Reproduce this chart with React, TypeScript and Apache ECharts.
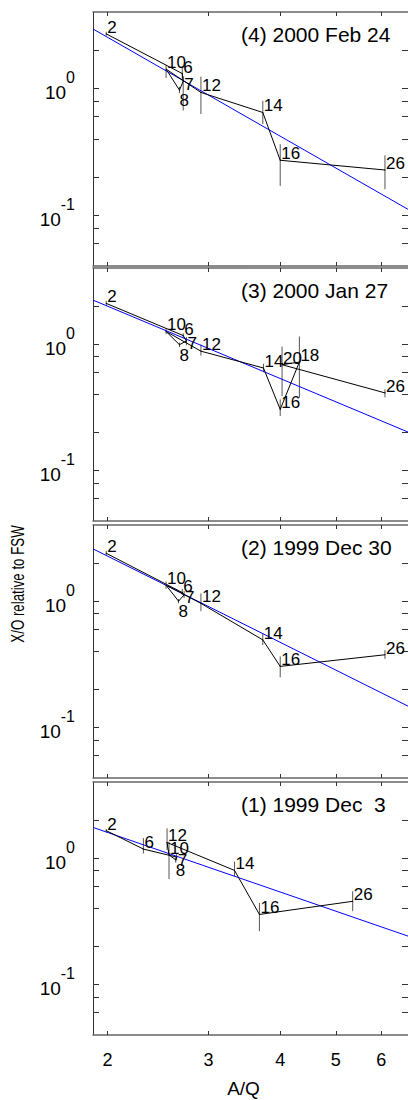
import React, { useEffect, useRef } from "react";
import * as echarts from "echarts";

// ---------- axis ranges & ticks ----------
const AQ_MIN = 1.887;
const AQ_MAX = 6.68;
const XO_MIN = 0.04;
const XO_MAX = 4;
const X_TICKS = [2, 3, 4, 5, 6];
const Y_TICKS = [0.06, 0.08, 0.1, 0.2, 0.4, 0.6, 0.8, 1, 2];
const Y_LABELS = [0.1, 1];
const X_NAME = "A/Q";
const Y_NAME = "X/O relative to FSW";

// ---------- panel (4) 2000 Feb 24 ----------
const P4_TITLE = "(4) 2000 Feb 24";
const P4_Z = ["2", "6", "7", "8", "10", "12", "14", "16", "26"];
const P4_AQ = [1.99, 2.7, 2.71, 2.67, 2.53, 2.91, 3.73, 4.0, 6.09];
const P4_XO = [2.69, 1.31, 1.14, 0.97, 1.42, 0.93, 0.647, 0.272, 0.228];
const P4_LO = [2.6, 1.18, 0.67, 0.92, 1.21, 0.628, 0.524, 0.171, 0.161];
const P4_HI = [2.8, 1.5, 1.25, 1.03, 1.53, 1.24, 0.8, 0.364, 0.298];
const P4_FIT_AQ = [AQ_MIN, AQ_MAX];
const P4_FIT_XO = [2.94, 0.1117];

// ---------- panel (3) 2000 Jan 27 ----------
const P3_TITLE = "(3) 2000 Jan 27";
const P3_Z = ["2", "6", "7", "8", "10", "12", "14", "16", "18", "20", "26"];
const P3_AQ = [1.99, 2.71, 2.745, 2.67, 2.53, 2.91, 3.74, 4.0, 4.32, 4.03, 6.09];
const P3_XO = [2.1, 1.17, 1.06, 0.99, 1.26, 0.88, 0.648, 0.305, 0.722, 0.688, 0.412];
const P3_LO = [2.0, 1.12, 0.98, 0.95, 1.2, 0.813, 0.6, 0.27, 0.377, 0.388, 0.38];
const P3_HI = [2.2, 1.22, 1.14, 1.03, 1.33, 0.995, 0.7, 0.366, 1.15, 0.957, 0.44];
const P3_FIT_AQ = [AQ_MIN, AQ_MAX];
const P3_FIT_XO = [2.23, 0.202];

// ---------- panel (2) 1999 Dec 30 ----------
const P2_TITLE = "(2) 1999 Dec 30";
const P2_Z = ["2", "6", "7", "8", "10", "12", "14", "16", "26"];
const P2_AQ = [1.99, 2.7, 2.72, 2.66, 2.53, 2.91, 3.73, 4.0, 6.09];
const P2_XO = [2.39, 1.17, 1.12, 1.0, 1.336, 0.96, 0.494, 0.305, 0.377];
const P2_LO = [2.3, 1.12, 1.06, 0.96, 1.25, 0.834, 0.45, 0.25, 0.35];
const P2_HI = [2.5, 1.25, 1.2, 1.04, 1.43, 1.15, 0.557, 0.365, 0.41];
const P2_FIT_AQ = [AQ_MIN, AQ_MAX];
const P2_FIT_XO = [2.59, 0.148];

// ---------- panel (1) 1999 Dec  3 ----------
const P1_TITLE = "(1) 1999 Dec  3";
const P1_Z = ["2", "6", "7", "8", "10", "12", "14", "16", "26"];
const P1_AQ = [1.99, 2.31, 2.64, 2.63, 2.56, 2.54, 3.33, 3.68, 5.35];
const P1_XO = [1.65, 1.18, 1.02, 0.97, 1.06, 1.33, 0.8, 0.359, 0.456];
const P1_LO = [1.6, 1.09, 0.96, 0.92, 0.684, 1.16, 0.717, 0.265, 0.381];
const P1_HI = [1.7, 1.44, 1.08, 1.02, 1.35, 1.72, 0.94, 0.443, 0.547];
const P1_FIT_AQ = [AQ_MIN, AQ_MAX];
const P1_FIT_XO = [1.75, 0.242];

const PANELS = [
  { title: P4_TITLE, z: P4_Z, aq: P4_AQ, xo: P4_XO, lo: P4_LO, hi: P4_HI, fitAq: P4_FIT_AQ, fitXo: P4_FIT_XO },
  { title: P3_TITLE, z: P3_Z, aq: P3_AQ, xo: P3_XO, lo: P3_LO, hi: P3_HI, fitAq: P3_FIT_AQ, fitXo: P3_FIT_XO },
  { title: P2_TITLE, z: P2_Z, aq: P2_AQ, xo: P2_XO, lo: P2_LO, hi: P2_HI, fitAq: P2_FIT_AQ, fitXo: P2_FIT_XO },
  { title: P1_TITLE, z: P1_Z, aq: P1_AQ, xo: P1_XO, lo: P1_LO, hi: P1_HI, fitAq: P1_FIT_AQ, fitXo: P1_FIT_XO },
];

// ---------- layout ----------
const FONT = "'Liberation Sans', Arial, Helvetica, sans-serif";
const GRID_LEFT = 93;
const GRID_WIDTH = 316;
const GRID_TOPS = [12, 268, 525, 782];
const GRID_HEIGHTS = [254, 253, 253, 253];

function pointLabel(z: string) {
  const base: any = {
    show: true,
    position: "inside",
    align: "left",
    color: "#000",
    fontSize: 17,
    lineHeight: 17,
    fontFamily: FONT,
    formatter: (p: any) => p.name,
  };
  if (z === "7") return { ...base, verticalAlign: "middle", offset: [1, 3] };
  if (z === "8") return { ...base, verticalAlign: "top", offset: [0, 2] };
  return { ...base, verticalAlign: "bottom", offset: [1, 2] };
}

function buildOption() {
  const grid: any[] = [];
  const xAxis: any[] = [];
  const yAxis: any[] = [];
  const series: any[] = [];
  const graphic: any[] = [];

  PANELS.forEach((p, i) => {
    const isLast = i === PANELS.length - 1;
    grid.push({ left: GRID_LEFT, width: GRID_WIDTH, top: GRID_TOPS[i], height: GRID_HEIGHTS[i] });

    const xBase: any = {
      type: "log",
      logBase: 10,
      min: AQ_MIN,
      max: AQ_MAX,
      gridIndex: i,
      splitLine: { show: false },
      minorTick: { show: false },
      axisLine: { show: true, onZero: false, lineStyle: { color: "#666", width: 1.5 } },
      axisTick: { show: true, inside: true, length: 4, customValues: X_TICKS, lineStyle: { color: "#333", width: 1 } },
    };
    xAxis.push({
      ...xBase,
      position: "bottom",
      axisLabel: {
        show: isLast,
        customValues: X_TICKS,
        margin: 16,
        fontSize: 18,
        color: "#000",
        fontFamily: FONT,
        formatter: (v: number) => String(Math.round(v)),
      },
      name: isLast ? X_NAME : "",
      nameLocation: "middle",
      nameGap: 44,
      nameTextStyle: { fontSize: 19, color: "#000", fontFamily: FONT, padding: [0, 14, 0, 0] },
    });
    xAxis.push({ ...xBase, position: "top", axisLabel: { show: false } });

    const yBase: any = {
      type: "log",
      logBase: 10,
      min: XO_MIN,
      max: XO_MAX,
      gridIndex: i,
      splitLine: { show: false },
      minorTick: { show: false },
      axisLine: { show: true, onZero: false, lineStyle: { color: "#333", width: 1 } },
      axisTick: { show: true, inside: true, length: 6, customValues: Y_TICKS, lineStyle: { color: "#333", width: 1 } },
    };
    yAxis.push({
      ...yBase,
      position: "left",
      axisLabel: {
        show: true,
        customValues: Y_LABELS,
        margin: 18,
        color: "#000",
        fontFamily: FONT,
        formatter: (v: number) => (v > 0.5 ? "{b|10}{s|0}" : "{b|10}{s|-1}"),
        rich: {
          b: { fontSize: 19, fontFamily: FONT, color: "#000", padding: [8, 0, 0, 0] },
          s: { fontSize: 16, fontFamily: FONT, color: "#000", padding: [0, 0, 22, 0] },
        },
      },
    });
    yAxis.push({ ...yBase, position: "right", axisLabel: { show: false } });

    // error bars
    series.push({
      type: "custom",
      xAxisIndex: 2 * i,
      yAxisIndex: 2 * i,
      silent: true,
      z: 2,
      encode: { x: 0, y: [1, 2] },
      data: p.aq.map((x, k) => [x, p.lo[k], p.hi[k]]),
      renderItem: (_params: any, api: any) => {
        const x = api.value(0);
        const a = api.coord([x, api.value(1)]);
        const b = api.coord([x, api.value(2)]);
        return {
          type: "line",
          shape: { x1: a[0], y1: a[1], x2: b[0], y2: b[1] },
          style: { stroke: "#555", lineWidth: 1 },
        };
      },
    });

    // fit line
    series.push({
      type: "line",
      xAxisIndex: 2 * i,
      yAxisIndex: 2 * i,
      silent: true,
      z: 3,
      symbol: "none",
      lineStyle: { color: "#0000ff", width: 1 },
      data: p.fitAq.map((x, k) => [x, p.fitXo[k]]),
    });

    // measured ratios
    series.push({
      type: "line",
      xAxisIndex: 2 * i,
      yAxisIndex: 2 * i,
      silent: true,
      z: 4,
      symbol: "circle",
      symbolSize: 1,
      showSymbol: true,
      itemStyle: { color: "#000" },
      lineStyle: { color: "#000", width: 1 },
      data: p.z.map((z, k) => ({ name: z, value: [p.aq[k], p.xo[k]], label: pointLabel(z) })),
    });

    graphic.push({
      type: "text",
      x: 241,
      y: GRID_TOPS[i] + 22,
      silent: true,
      style: {
        text: p.title,
        fill: "#000",
        font: `21px ${FONT}`,
        textAlign: "left",
        textVerticalAlign: "middle",
        align: "left",
        verticalAlign: "middle",
      },
    });
  });

  graphic.push({
    type: "text",
    x: 17,
    y: 584,
    rotation: Math.PI / 2,
    scaleX: 0.7,
    silent: true,
    style: {
      text: Y_NAME,
      fill: "#000",
      font: `19px ${FONT}`,
      textAlign: "center",
      textVerticalAlign: "middle",
      align: "center",
      verticalAlign: "middle",
    },
  });

  return {
    animation: false,
    backgroundColor: "#fff",
    grid,
    xAxis,
    yAxis,
    series,
    graphic,
  };
}

export default function App() {
  const ref = useRef<HTMLDivElement>(null);
  useEffect(() => {
    document.body.style.margin = "0";
    if (!ref.current) return;
    const chart = echarts.init(ref.current, null, { renderer: "svg" });
    chart.setOption(buildOption() as any);
    return () => chart.dispose();
  }, []);
  return <div ref={ref} style={{ width: 408, height: 1100 }} />;
}
